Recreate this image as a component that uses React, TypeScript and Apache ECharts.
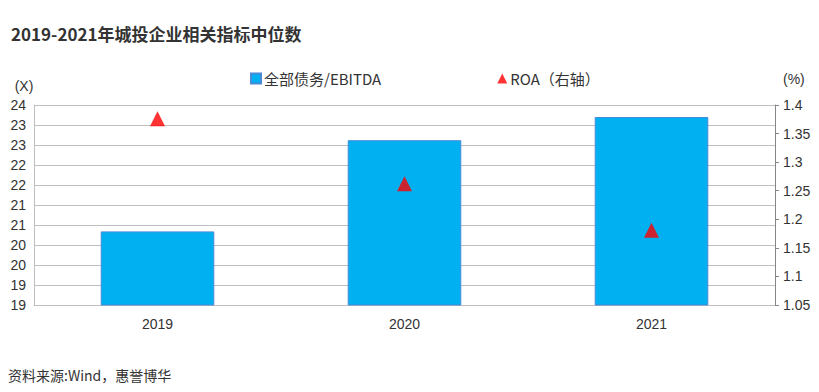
import React, { useEffect, useRef } from "react";
import * as echarts from "echarts";

const categories = ["2019", "2020", "2021"];
const debtEbitda = [20.84, 23.12, 23.7];
const roa = [1.376, 1.262, 1.181];
const leftTicks = { min: 19, max: 24, interval: 0.5 };
const rightTicks = { min: 1.05, max: 1.4, interval: 0.05 };

const FONT = "'Noto Sans CJK SC', 'Noto Sans', sans-serif";
const NUMFONT = "'Liberation Sans', Arial, sans-serif";

export default function App() {
  const ref = useRef<HTMLDivElement>(null);
  useEffect(() => {
    document.body.style.margin = "0";
    const chart = echarts.init(ref.current!, undefined, { renderer: "svg" });
    chart.setOption({
      animation: false,
      backgroundColor: "#ffffff",
      textStyle: { fontFamily: FONT },
      title: {
        text: "2019-2021年城投企业相关指标中位数",
        left: 6,
        top: 20,
        textStyle: { fontSize: 17, fontWeight: "bold", color: "#333333", fontFamily: FONT },
      },
      legend: {
        left: 245,
        top: 66,
        itemGap: 116,
        itemWidth: 10,
        itemHeight: 10,
        textStyle: { fontSize: 15, color: "#333333", padding: [0, 0, 0, -2] },
        data: [
          { name: "全部债务/EBITDA", icon: "rect" },
          { name: "ROA（右轴）", icon: "triangle" },
        ],
      },
      grid: { left: 34, right: 44, top: 105, bottom: 87, containLabel: false },
      xAxis: {
        type: "category",
        data: categories,
        axisLine: { show: true, lineStyle: { color: "#BFBFBF" } },
        axisTick: { show: false },
        axisLabel: { fontSize: 14, color: "#333333", margin: 12, fontFamily: NUMFONT },
      },
      yAxis: [
        {
          type: "value",
          min: leftTicks.min,
          max: leftTicks.max,
          interval: leftTicks.interval,
          name: "(X)",
          nameLocation: "end",
          nameGap: 12,
          nameTextStyle: {
            fontSize: 14,
            color: "#333333",
            align: "center",
            padding: [0, 0, 0, -20],
            fontFamily: NUMFONT,
          },
          axisLine: { show: true, lineStyle: { color: "#BFBFBF" } },
          axisTick: { show: false },
          splitLine: { show: true, lineStyle: { color: "#BFBFBF", width: 1 } },
          axisLabel: {
            fontSize: 14,
            color: "#333333",
            margin: 8,
            fontFamily: NUMFONT,
            formatter: (v: number) => String(Math.floor(v + 1e-9)),
          },
        },
        {
          type: "value",
          position: "right",
          min: rightTicks.min,
          max: rightTicks.max,
          interval: rightTicks.interval,
          name: "(%)",
          nameLocation: "end",
          nameGap: 19,
          nameTextStyle: {
            fontSize: 14,
            color: "#333333",
            align: "left",
            padding: [0, 0, 0, 8],
            fontFamily: NUMFONT,
          },
          axisLine: { show: true, lineStyle: { color: "#868686" } },
          axisTick: { show: true, inside: false, length: 4, lineStyle: { color: "#868686" } },
          splitLine: { show: false },
          axisLabel: {
            fontSize: 14,
            color: "#333333",
            margin: 8,
            fontFamily: NUMFONT,
            formatter: (v: number) => String(parseFloat(v.toFixed(2))),
          },
        },
      ],
      series: [
        {
          name: "全部债务/EBITDA",
          type: "bar",
          data: debtEbitda,
          barWidth: "46%",
          yAxisIndex: 0,
          itemStyle: { color: "#00B0F0", borderColor: "#4A8AD8", borderWidth: 1 },
        },
        {
          name: "ROA（右轴）",
          type: "scatter",
          data: roa,
          yAxisIndex: 1,
          symbol: "triangle",
          symbolSize: [15, 15],
          itemStyle: { color: "#FF0000" },
        },
      ],
      graphic: [
        {
          type: "text",
          left: 8,
          top: 368,
          style: { text: "资料来源:Wind，惠誉博华", fontSize: 14, fill: "#333333", fontFamily: FONT },
        },
      ],
    });
    return () => chart.dispose();
  }, []);
  return <div ref={ref} style={{ width: 819, height: 392 }} />;
}
